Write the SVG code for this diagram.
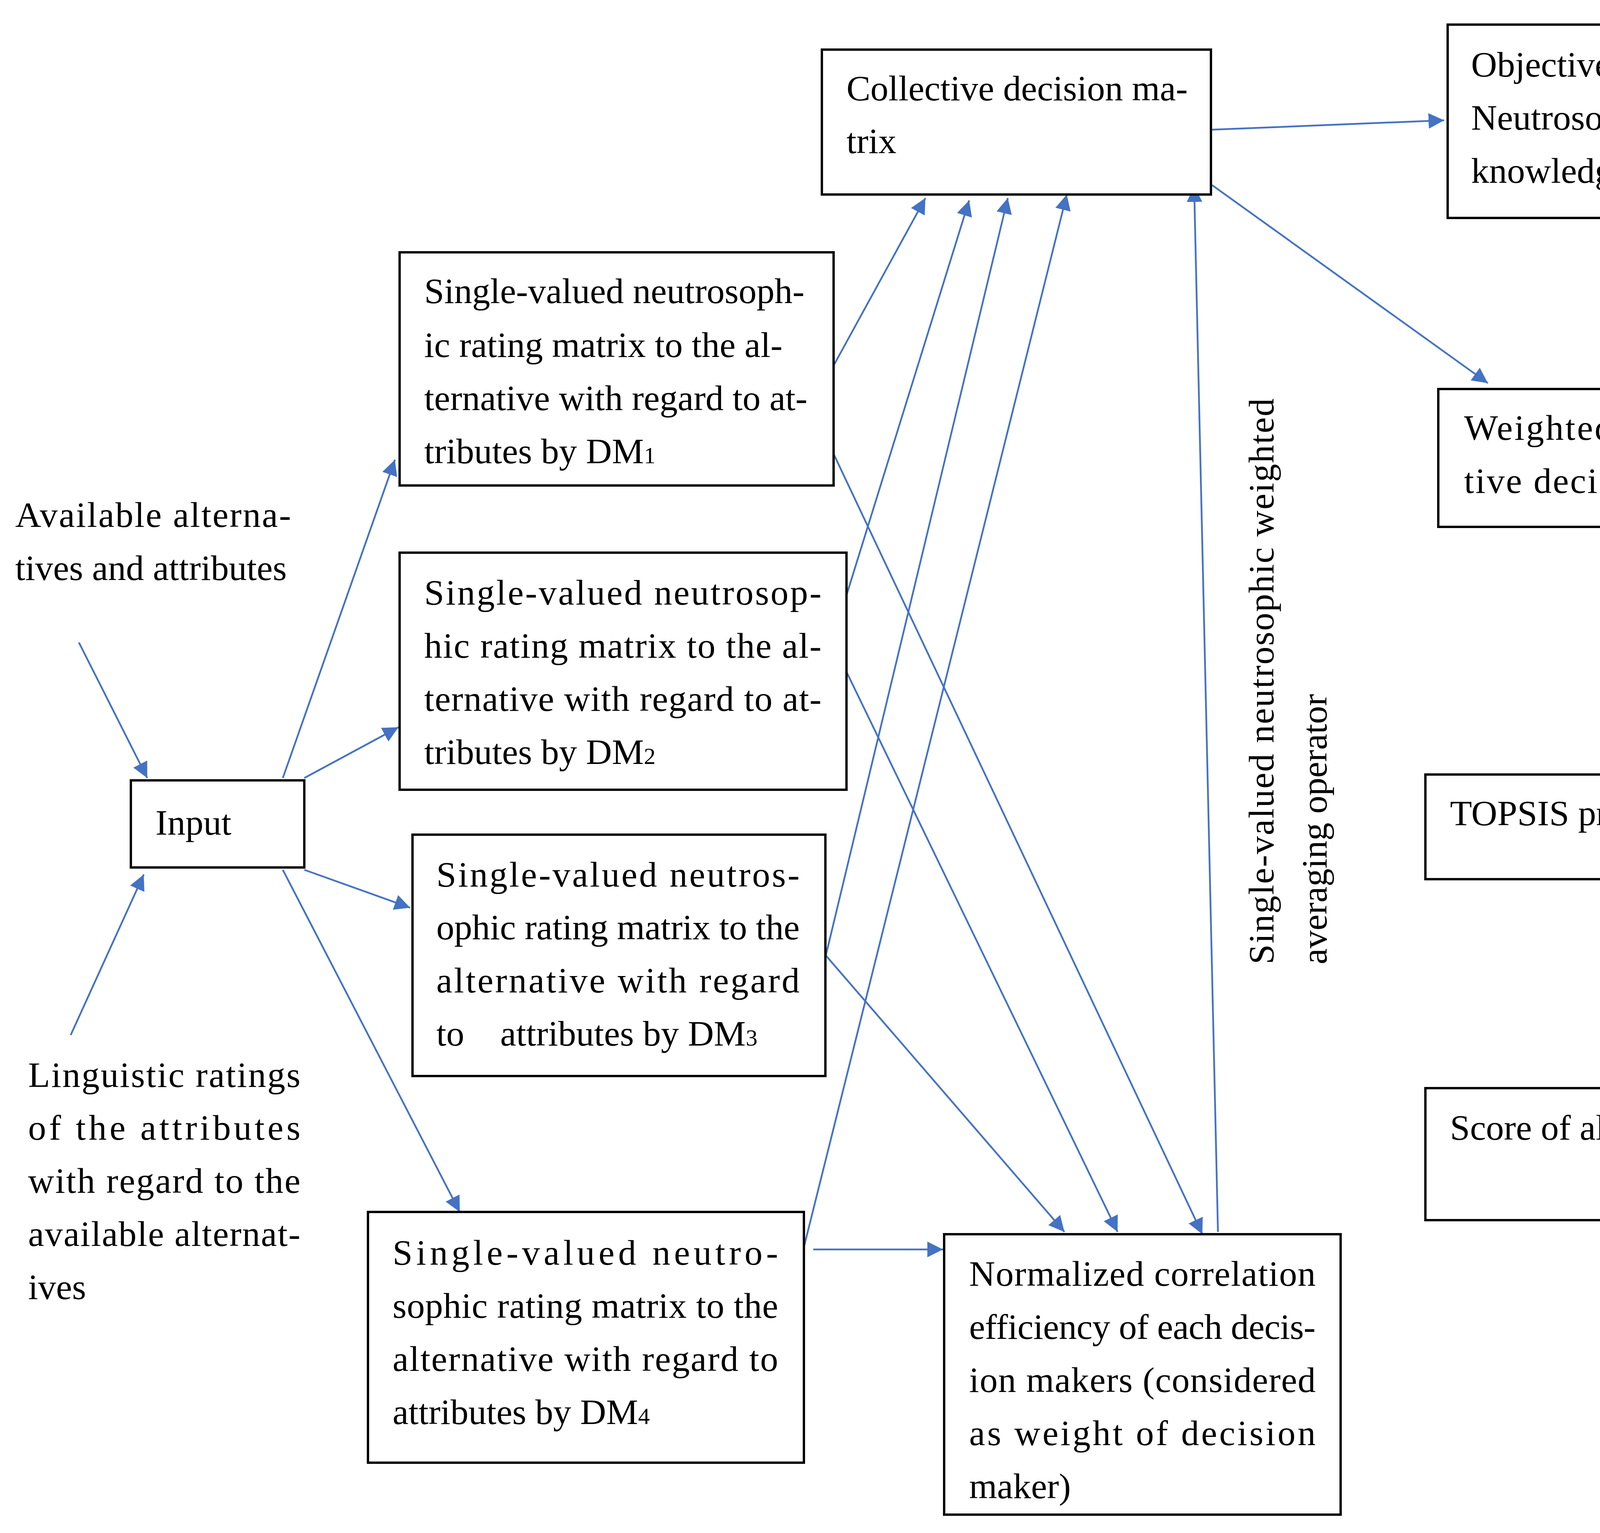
<svg xmlns="http://www.w3.org/2000/svg" width="4707" height="3925" viewBox="0 0 4707 3925">
<style>
.b{fill:#fff;stroke:#000;stroke-width:6}
.t{font-family:"Liberation Serif","DejaVu Serif",serif;font-size:92px;fill:#000}
.c line{stroke:#4472C4;stroke-width:4.5;marker-end:url(#a)}
</style>
<defs><marker id="a" viewBox="0 0 10 10" refX="10" refY="5" markerWidth="40" markerHeight="40" markerUnits="userSpaceOnUse" orient="auto"><path d="M0,0L10,5L0,10z" fill="#4472C4"/></marker></defs>
<rect width="4707" height="3925" fill="#fff"/>
<g class="c">
<line x1="202" y1="1645" x2="377" y2="1992"/>
<line x1="181" y1="2650" x2="368" y2="2239"/>
<line x1="724" y1="1992" x2="1011" y2="1177"/>
<line x1="779" y1="1992" x2="1020" y2="1862"/>
<line x1="779" y1="2227" x2="1050" y2="2324"/>
<line x1="724" y1="2227" x2="1177" y2="3103"/>
<line x1="2134" y1="936" x2="2369" y2="507"/>
<line x1="2167" y1="1524" x2="2481" y2="513"/>
<line x1="2113" y1="2451" x2="2580" y2="507"/>
<line x1="2058" y1="3193" x2="2731" y2="498"/>
<line x1="2134" y1="1162" x2="3078" y2="3160"/>
<line x1="2167" y1="1720" x2="2861" y2="3154"/>
<line x1="2113" y1="2445" x2="2725" y2="3154"/>
<line x1="2082" y1="3199" x2="2414" y2="3199"/>
<line x1="3118" y1="3154" x2="3057" y2="477"/>
<line x1="3103" y1="332" x2="3697" y2="308"/>
<line x1="3103" y1="474" x2="3809" y2="981"/>
<line x1="4105" y1="549" x2="4129" y2="996"/>
<line x1="4105" y1="1355" x2="4135" y2="1977"/>
<line x1="4129" y1="2257" x2="4156" y2="2780"/>
</g>
<g id="collective"><rect class="b" x="2104" y="127" width="996" height="371"/>
<text class="t" x="2167" y="257">Collective decision ma-</text><text class="t" x="2167" y="392">trix</text></g>
<g id="objective"><rect class="b" x="3706" y="63" width="875" height="495"/>
<text class="t" x="3766" y="196">Objective weight by</text><text class="t" x="3766" y="332">Neutrosophic</text><text class="t" x="3766" y="468">knowledge measure</text></g>
<g id="sv1"><rect class="b" x="1023" y="646" width="1111" height="597"/>
<text class="t" x="1086" y="776">Single-valued neutrosoph-</text>
<text class="t" x="1086" y="914">ic rating matrix to the al-</text>
<text class="t" x="1086" y="1050">ternative with regard to at-</text>
<text class="t" x="1086" y="1186">tributes by DM<tspan font-size="60">1</tspan></text></g>
<g id="sv2"><rect class="b" x="1023" y="1415" width="1144" height="607"/>
<text class="t" x="1086" y="1548" textLength="1017" lengthAdjust="spacing">Single-valued neutrosop-</text>
<text class="t" x="1086" y="1684" textLength="1017" lengthAdjust="spacing">hic rating matrix to the al-</text>
<text class="t" x="1086" y="1820" textLength="1017" lengthAdjust="spacing">ternative with regard to at-</text>
<text class="t" x="1086" y="1956">tributes by DM<tspan font-size="60">2</tspan></text></g>
<g id="sv3"><rect class="b" x="1056" y="2137" width="1057" height="618"/>
<text class="t" x="1117" y="2270" textLength="930" lengthAdjust="spacing">Single-valued neutros-</text>
<text class="t" x="1117" y="2405" textLength="930" lengthAdjust="spacing">ophic rating matrix to the</text>
<text class="t" x="1117" y="2541" textLength="930" lengthAdjust="spacing">alternative with regard</text>
<text class="t" x="1117" y="2677" xml:space="preserve">to    attributes by DM<tspan font-size="60">3</tspan></text></g>
<g id="sv4"><rect class="b" x="942" y="3103" width="1116" height="642"/>
<text class="t" x="1005" y="3238" textLength="987" lengthAdjust="spacing">Single-valued neutro-</text>
<text class="t" x="1005" y="3374" textLength="987" lengthAdjust="spacing">sophic rating matrix to the</text>
<text class="t" x="1005" y="3510" textLength="987" lengthAdjust="spacing">alternative with regard to</text>
<text class="t" x="1005" y="3646">attributes by DM<tspan font-size="60">4</tspan></text></g>
<g id="normalized"><rect class="b" x="2417" y="3160" width="1015" height="718"/>
<text class="t" x="2481" y="3292" textLength="887" lengthAdjust="spacing">Normalized correlation</text>
<text class="t" x="2481" y="3428" textLength="887" lengthAdjust="spacing">efficiency of each decis-</text>
<text class="t" x="2481" y="3564" textLength="887" lengthAdjust="spacing">ion makers (considered</text>
<text class="t" x="2481" y="3700" textLength="887" lengthAdjust="spacing">as weight of decision</text>
<text class="t" x="2481" y="3836">maker)</text></g>
<g id="weighted"><rect class="b" x="3682" y="996" width="815" height="353"/>
<text class="t" x="3748" y="1126" textLength="688" lengthAdjust="spacing">Weighted collec-</text>
<text class="t" x="3748" y="1262" textLength="688" lengthAdjust="spacing">tive decision ma-</text></g>
<g id="topsis"><rect class="b" x="3649" y="1983" width="999" height="268"/>
<text class="t" x="3712" y="2113">TOPSIS procedure</text></g>
<g id="score"><rect class="b" x="3649" y="2786" width="1005" height="338"/>
<text class="t" x="3712" y="2918">Score of alternatives</text></g>
<g id="input"><rect class="b" x="335" y="1998" width="444" height="223"/>
<text class="t" x="398" y="2137" font-size="108">Input</text></g>
<g id="available">
<text class="t" x="39" y="1349" textLength="706" lengthAdjust="spacing">Available alterna-</text>
<text class="t" x="39" y="1485">tives and attributes</text></g>
<g id="linguistic">
<text class="t" x="72" y="2783" textLength="697" lengthAdjust="spacing">Linguistic ratings</text>
<text class="t" x="72" y="2918" textLength="697" lengthAdjust="spacing">of the attributes</text>
<text class="t" x="72" y="3054" textLength="697" lengthAdjust="spacing">with regard to the</text>
<text class="t" x="72" y="3190" textLength="697" lengthAdjust="spacing">available alternat-</text>
<text class="t" x="72" y="3326">ives</text></g>
<g id="operator">
<text class="t" transform="translate(3260,2469) rotate(-90)" textLength="1449" lengthAdjust="spacing">Single-valued neutrosophic weighted</text>
<text class="t" transform="translate(3396,2469) rotate(-90)">averaging operator</text></g>
</svg>
